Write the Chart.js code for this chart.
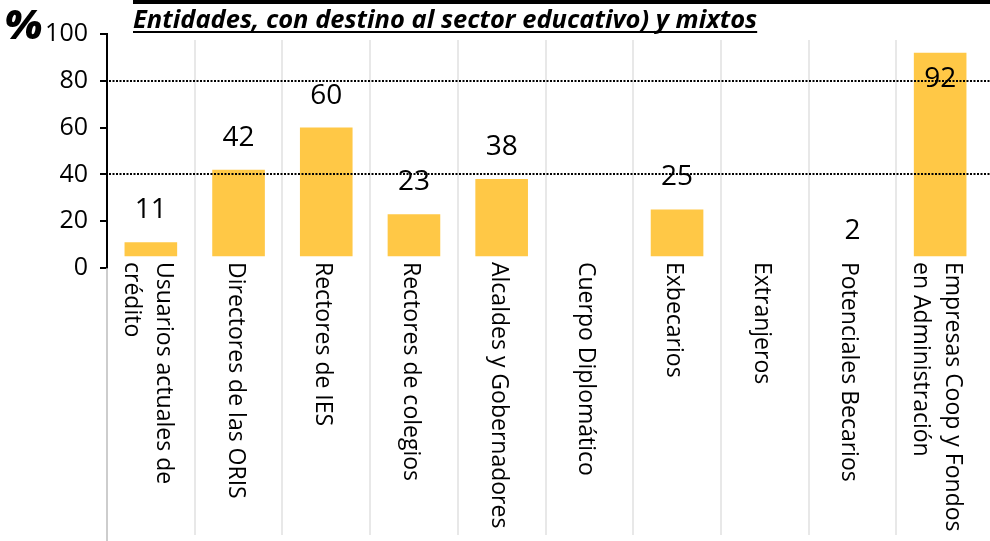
<!DOCTYPE html>
<html>
<head>
<meta charset="utf-8">
<script src="https://cdn.jsdelivr.net/npm/chart.js@4.4.1/dist/chart.umd.min.js"></script>
<style>
  html, body { margin: 0; padding: 0; background: #fff; }
  #wrap { width: 990px; height: 541px; position: relative; }
</style>
</head>
<body>
<div id="wrap"><canvas id="chart" width="990" height="541"></canvas></div>
<script>
// chart data
const categories = [
    ['Usuarios actuales de', 'crédito'],
    'Directores de las ORIS',
    'Rectores de IES',
    'Rectores de colegios',
    'Alcaldes y Gobernadores',
    'Cuerpo Diplomático',
    'Exbecarios',
    'Extranjeros',
    'Potenciales Becarios',
    ['Empresas Coop y Fondos', 'en Administración']
];
const values = [11, 42, 60, 23, 38, null, 25, null, 2, 92];
const barBase = 5;
const yTicks = [0, 20, 40, 60, 80, 100];
const dottedGrid = [40, 80];
const titleText = 'Entidades, con destino al sector educativo) y mixtos';
const unitLabel = '%';

const FONT = '"Open Sans", sans-serif';

/**
 * Extra drawing: dotted grid, separators, value labels, category labels, title
 */
const decorPlugin = {
    id: 'decor',
    beforeDraw(chart) {
        const c = chart.ctx;
        c.save();
        c.fillStyle = '#fff';
        c.fillRect(0, 0, chart.width, chart.height);
        c.restore();
    },
    beforeDatasetsDraw(chart) {
        const c = chart.ctx;
        const x = chart.scales.x;
        const area = chart.chartArea;
        c.save();
        // category separators
        c.strokeStyle = '#e8e8e8';
        c.lineWidth = 2;
        for (let i = 1; i < categories.length; i++) {
            const px = Math.round((x.getPixelForValue(i - 1) + x.getPixelForValue(i)) / 2);
            c.beginPath();
            c.moveTo(px, 40);
            c.lineTo(px, 535);
            c.stroke();
        }
        // axis continuation below the plot
        c.strokeStyle = '#bdbdbd';
        c.lineWidth = 1.5;
        c.beginPath();
        c.moveTo(area.left, area.bottom);
        c.lineTo(area.left, 541);
        c.stroke();
        c.restore();
    },
    afterDatasetsDraw(chart) {
        const c = chart.ctx;
        const x = chart.scales.x;
        const y = chart.scales.y;
        const area = chart.chartArea;
        c.save();

        // dotted gridlines over bars
        c.strokeStyle = '#000';
        c.lineWidth = 2;
        c.setLineDash([2, 1.5]);
        dottedGrid.forEach(v => {
            const py = Math.round(y.getPixelForValue(v));
            c.beginPath();
            c.moveTo(area.left + 2, py);
            c.lineTo(chart.width, py);
            c.stroke();
        });
        c.setLineDash([]);

        // value labels
        c.fillStyle = '#000';
        c.font = '28px ' + FONT;
        c.textAlign = 'center';
        c.textBaseline = 'middle';
        values.forEach((v, i) => {
            if (v === null) return;
            const top = y.getPixelForValue(v);
            let cy = top - 32;
            if (cy - 12 < area.top) cy = top + 26;
            c.fillText(String(v), x.getPixelForValue(i), cy);
        });

        // rotated category labels (read top to bottom)
        c.font = '23px ' + FONT;
        c.textAlign = 'left';
        c.textBaseline = 'alphabetic';
        categories.forEach((lab, i) => {
            const lines = Array.isArray(lab) ? lab : [lab];
            const cx = x.getPixelForValue(i);
            c.save();
            c.translate(cx, 262);
            c.rotate(Math.PI / 2);
            lines.forEach((ln, j) => {
                const d = -10 + (lines.length - 1) / 2 * 32 - j * 32;
                c.fillText(ln, 0, -d);
            });
            c.restore();
        });

        // title (second line of a longer title, first line cut at top)
        c.fillStyle = '#000';
        c.fillRect(133, 0, chart.width - 133, 4);
        c.font = 'italic bold 25.5px ' + FONT;
        c.textAlign = 'left';
        c.textBaseline = 'alphabetic';
        c.fillText(titleText, 133, 28);
        const tw = c.measureText(titleText).width;
        c.fillRect(133, 31, tw, 2);

        // unit
        c.font = 'italic 800 41px ' + FONT;
        c.fillText(unitLabel, 4, 39);
        c.restore();
    }
};

const ctx = document.getElementById('chart');
new Chart(ctx, {
    type: 'bar',
    data: {
        labels: categories,
        datasets: [{
            data: values.map(v => (v === null || v <= barBase) ? null : [barBase, v]),
            backgroundColor: '#FFC846',
            borderWidth: 0,
            categoryPercentage: 1,
            barPercentage: 0.6
        }]
    },
    options: {
        responsive: false,
        animation: false,
        devicePixelRatio: 1,
        layout: { padding: { top: 34, right: 6, left: 0, bottom: 273 } },
        plugins: {
            legend: { display: false },
            tooltip: { enabled: false }
        },
        scales: {
            x: {
                display: false
            },
            y: {
                min: 0,
                max: 100,
                afterBuildTicks: scale => {
                    scale.ticks = yTicks.map(v => ({ value: v }));
                },
                afterFit: scale => {
                    scale.width = 107;
                },
                ticks: {
                    color: '#000',
                    font: { family: FONT, size: 25 },
                    padding: 12
                },
                grid: {
                    drawOnChartArea: false,
                    drawTicks: true,
                    tickLength: 7,
                    color: '#000',
                    lineWidth: 2
                },
                border: { color: '#000', width: 2 }
            }
        }
    },
    plugins: [decorPlugin]
});
</script>
</body>
</html>
